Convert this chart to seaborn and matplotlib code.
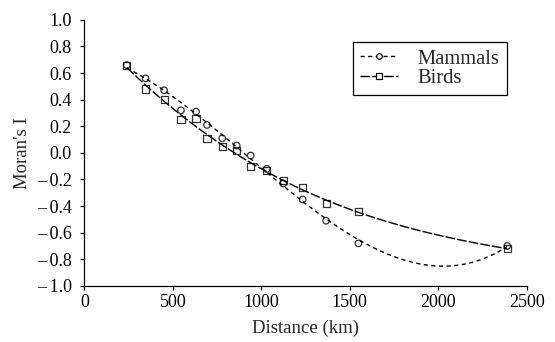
#!/usr/bin/env python3
"""Moran's I correlogram for mammals and birds with polynomial trend lines."""
import matplotlib
matplotlib.use("Agg")
import matplotlib.pyplot as plt
from matplotlib.lines import Line2D
import pandas as pd
import seaborn as sns

DISTANCE = [240, 346, 451, 546, 631, 693, 779, 861, 940, 1031, 1124, 1234, 1366, 1549, 2390]
MAMMALS = [0.66, 0.56, 0.47, 0.32, 0.31, 0.21, 0.11, 0.055, -0.02, -0.12, -0.23, -0.35, -0.51, -0.68, -0.70]
BIRDS = [0.66, 0.48, 0.40, 0.25, 0.26, 0.11, 0.045, 0.02, -0.10, -0.13, -0.21, -0.26, -0.38, -0.44, -0.72]

X_TICKS = [0, 500, 1000, 1500, 2000, 2500]
Y_TICKS = [-1.0, -0.8, -0.6, -0.4, -0.2, 0.0, 0.2, 0.4, 0.6, 0.8, 1.0]

SERIES = {
    "Mammals": dict(y=MAMMALS, marker="o", size=22, dashes=(3.0, 2.5), order=3),
    "Birds": dict(y=BIRDS, marker="s", size=26, dashes=(7.0, 1.5), order=3),
}

sns.set_theme(style="ticks")
plt.rcParams["font.family"] = ["Liberation Serif", "DejaVu Serif"]
FS = 13.5

fig = plt.figure(figsize=(5.55, 3.42), dpi=100)
ax = fig.add_axes([0.152, 0.164, 0.797, 0.778])

handles = []
for name, spec in SERIES.items():
    df = pd.DataFrame({"distance": DISTANCE, "moran": spec["y"]})
    sns.regplot(
        data=df, x="distance", y="moran", order=spec["order"], ci=None, ax=ax,
        color="black", marker=spec["marker"],
        scatter_kws={"facecolors": "none", "s": spec["size"], "linewidths": 0.9, "zorder": 3},
        line_kws={"linewidth": 1.0, "dashes": spec["dashes"]},
    )
    handles.append(Line2D([], [], color="black", lw=1.0, dashes=spec["dashes"],
                          marker=spec["marker"], markerfacecolor="white",
                          markeredgecolor="black", markersize=4, markeredgewidth=0.9,
                          label=name))

ax.set_xlim(0, 2500)
ax.set_ylim(-1.0, 1.0)
ax.set_xticks(X_TICKS)
ax.set_yticks(Y_TICKS)
ax.set_yticklabels([f"{v:.1f}".replace("-", "\u2013\u2009") for v in Y_TICKS])
ax.tick_params(axis="both", direction="out", length=3, width=0.9, labelsize=13, colors="black")
ax.tick_params(axis="x", pad=3)
ax.tick_params(axis="y", pad=6)
sns.despine(ax=ax)
for side in ("left", "bottom"):
    ax.spines[side].set_linewidth(0.9)
    ax.spines[side].set_color("black")

ax.set_xlabel("Distance (km)", fontsize=FS, labelpad=6)
ax.set_ylabel("Moran's I", fontsize=FS, labelpad=4)

leg = ax.legend(
    handles=handles, loc="upper right",
    bbox_to_anchor=(507 / 555, 1 - 42 / 342), bbox_transform=fig.transFigure,
    frameon=True, fancybox=False, edgecolor="black", framealpha=1,
    handlelength=1.85, handletextpad=0.95, borderpad=0.35, labelspacing=0.0,
    fontsize=14.8, borderaxespad=0,
)
leg.get_frame().set_linewidth(0.9)

fig.savefig("out.png", dpi=100)
